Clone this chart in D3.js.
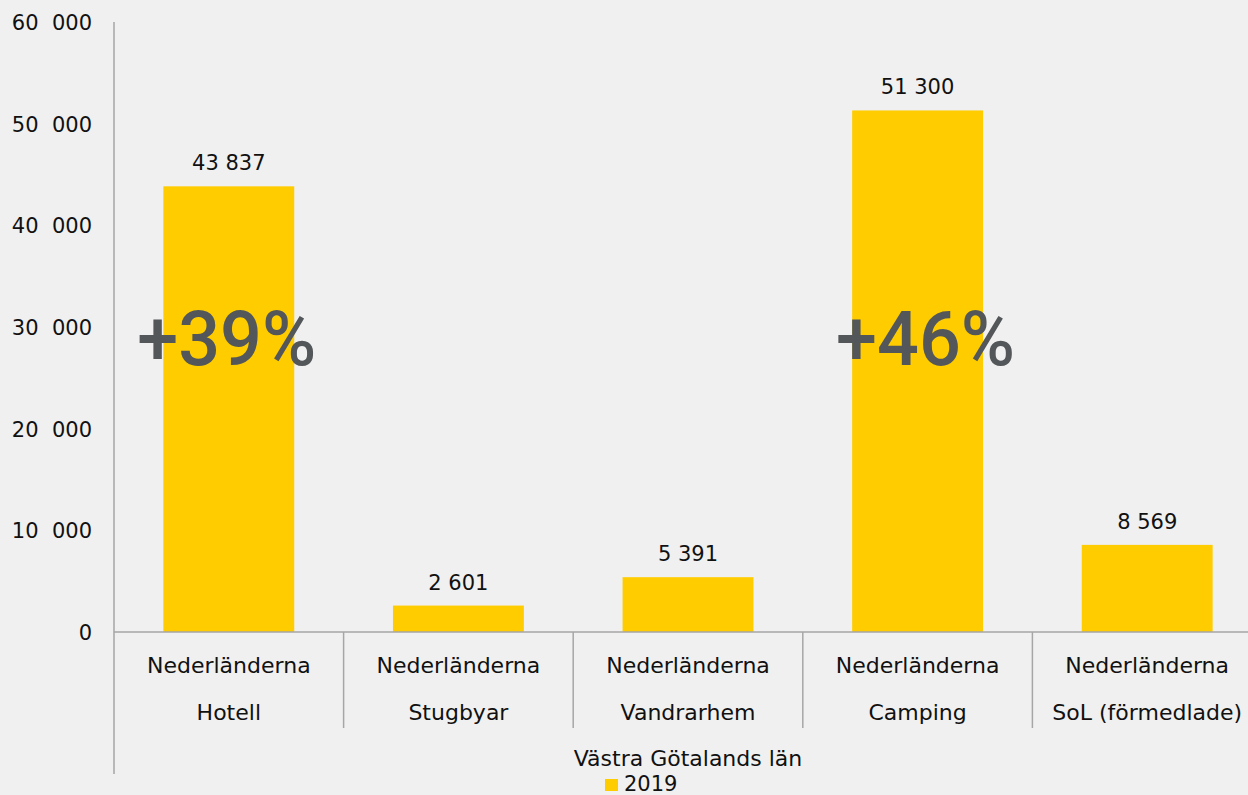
<!DOCTYPE html>
<html lang="sv">
<head>
  <meta charset="UTF-8">
  <title>Nederländerna, Västra Götalands län 2019</title>
  <script src="https://d3js.org/d3.v7.min.js"></script>
  <style>
    html, body { margin: 0; padding: 0; background: #f0f0f0; }
    svg { display: block; font-family: "DejaVu Sans", sans-serif; }
  </style>
</head>
<body>
  <script>
    // data
    const categories = ["Hotell", "Stugbyar", "Vandrarhem", "Camping", "SoL (förmedlade)"];
    const country = "Nederländerna";
    const values = [43837, 2601, 5391, 51300, 8569];
    const valueLabels = ["43 837", "2 601", "5 391", "51 300", "8 569"];
    const yTicks = [0, 10000, 20000, 30000, 40000, 50000, 60000];
    const yTickLabels = ["0", "10  000", "20  000", "30  000", "40  000", "50  000", "60  000"];
    const changes = [{ cat: "Hotell", text: "+39%" }, { cat: "Camping", text: "+46%" }];
    const groupLabel = "Västra Götalands län";
    const seriesName = "2019";

    const width = 1248, height = 795;
    const yellow = "#ffcc00", axisColor = "#a6a6a6";

    const svg = d3.select("body").append("svg")
      .attr("width", width).attr("height", height);

    const x = d3.scaleBand()
      .domain(categories)
      .range([114, 1262])
      .paddingInner(0.43)
      .paddingOuter(0.215);

    const y = d3.scaleLinear()
      .domain([0, 60000])
      .range([632, 22]);

    // y axis
    const yAxis = d3.axisLeft(y)
      .tickValues(yTicks)
      .tickSize(0)
      .tickPadding(22)
      .tickFormat((d, i) => yTickLabels[i]);

    const ga = svg.append("g")
      .attr("transform", "translate(114,0)")
      .call(yAxis);
    ga.select(".domain").remove();
    ga.selectAll("text")
      .attr("font-size", 21)
      .attr("fill", "#111")
      .attr("font-family", "DejaVu Sans, sans-serif")
      .style("white-space", "pre")
      .attr("dy", "0.36em");

    // bars
    svg.selectAll("rect.bar")
      .data(values)
      .enter()
      .append("rect")
      .attr("class", "bar")
      .attr("x", (d, i) => x(categories[i]))
      .attr("y", d => y(d))
      .attr("width", x.bandwidth())
      .attr("height", d => y(0) - y(d))
      .attr("fill", yellow);

    // value labels
    svg.selectAll("text.val")
      .data(values)
      .enter()
      .append("text")
      .attr("class", "val")
      .attr("x", (d, i) => x(categories[i]) + x.bandwidth() / 2)
      .attr("y", d => y(d) - 16)
      .attr("text-anchor", "middle")
      .attr("font-size", 21)
      .attr("fill", "#111")
      .text((d, i) => valueLabels[i]);

    // axis lines
    const x0 = x.range()[0], step = x.step();
    svg.append("line")
      .attr("x1", x0).attr("x2", x0)
      .attr("y1", 22).attr("y2", 774)
      .attr("stroke", axisColor).attr("stroke-width", 1.5);
    svg.append("line")
      .attr("x1", x0).attr("x2", x.range()[1])
      .attr("y1", y(0)).attr("y2", y(0))
      .attr("stroke", axisColor).attr("stroke-width", 1.5);
    svg.selectAll("line.sep")
      .data(d3.range(1, categories.length))
      .enter()
      .append("line")
      .attr("class", "sep")
      .attr("x1", i => x0 + i * step).attr("x2", i => x0 + i * step)
      .attr("y1", y(0)).attr("y2", 728)
      .attr("stroke", axisColor).attr("stroke-width", 1.5);

    // category labels
    const cat = svg.selectAll("g.cat")
      .data(categories)
      .enter()
      .append("g")
      .attr("class", "cat")
      .attr("transform", d => `translate(${x(d) + x.bandwidth() / 2},0)`);
    cat.append("text")
      .attr("y", 673)
      .attr("text-anchor", "middle")
      .attr("font-size", 22)
      .attr("fill", "#111")
      .text(country);
    cat.append("text")
      .attr("y", 720)
      .attr("text-anchor", "middle")
      .attr("font-size", 22)
      .attr("fill", "#111")
      .text(d => d);

    // group label and legend
    const mid = (x.range()[0] + x.range()[1]) / 2;
    svg.append("text")
      .attr("x", mid).attr("y", 766)
      .attr("text-anchor", "middle")
      .attr("font-size", 22)
      .attr("fill", "#111")
      .text(groupLabel);
    svg.append("rect")
      .attr("x", 605).attr("y", 779)
      .attr("width", 13).attr("height", 12)
      .attr("fill", yellow);
    svg.append("text")
      .attr("x", 624).attr("y", 791)
      .attr("font-size", 21)
      .attr("fill", "#111")
      .text(seriesName);

    // change annotations
    svg.selectAll("text.chg")
      .data(changes)
      .enter()
      .append("text")
      .attr("class", "chg")
      .attr("x", d => x(d.cat) + x.bandwidth() / 2 + (d.cat === "Camping" ? 8 : -2))
      .attr("y", y(26300))
      .attr("text-anchor", "middle")
      .attr("font-family", "Roboto, Liberation Sans, sans-serif")
      .attr("font-weight", 500)
      .attr("font-size", 76)
      .attr("fill", "#53575a")
      .attr("textLength", 179)
      .attr("lengthAdjust", "spacingAndGlyphs")
      .text(d => d.text);
  </script>
</body>
</html>
